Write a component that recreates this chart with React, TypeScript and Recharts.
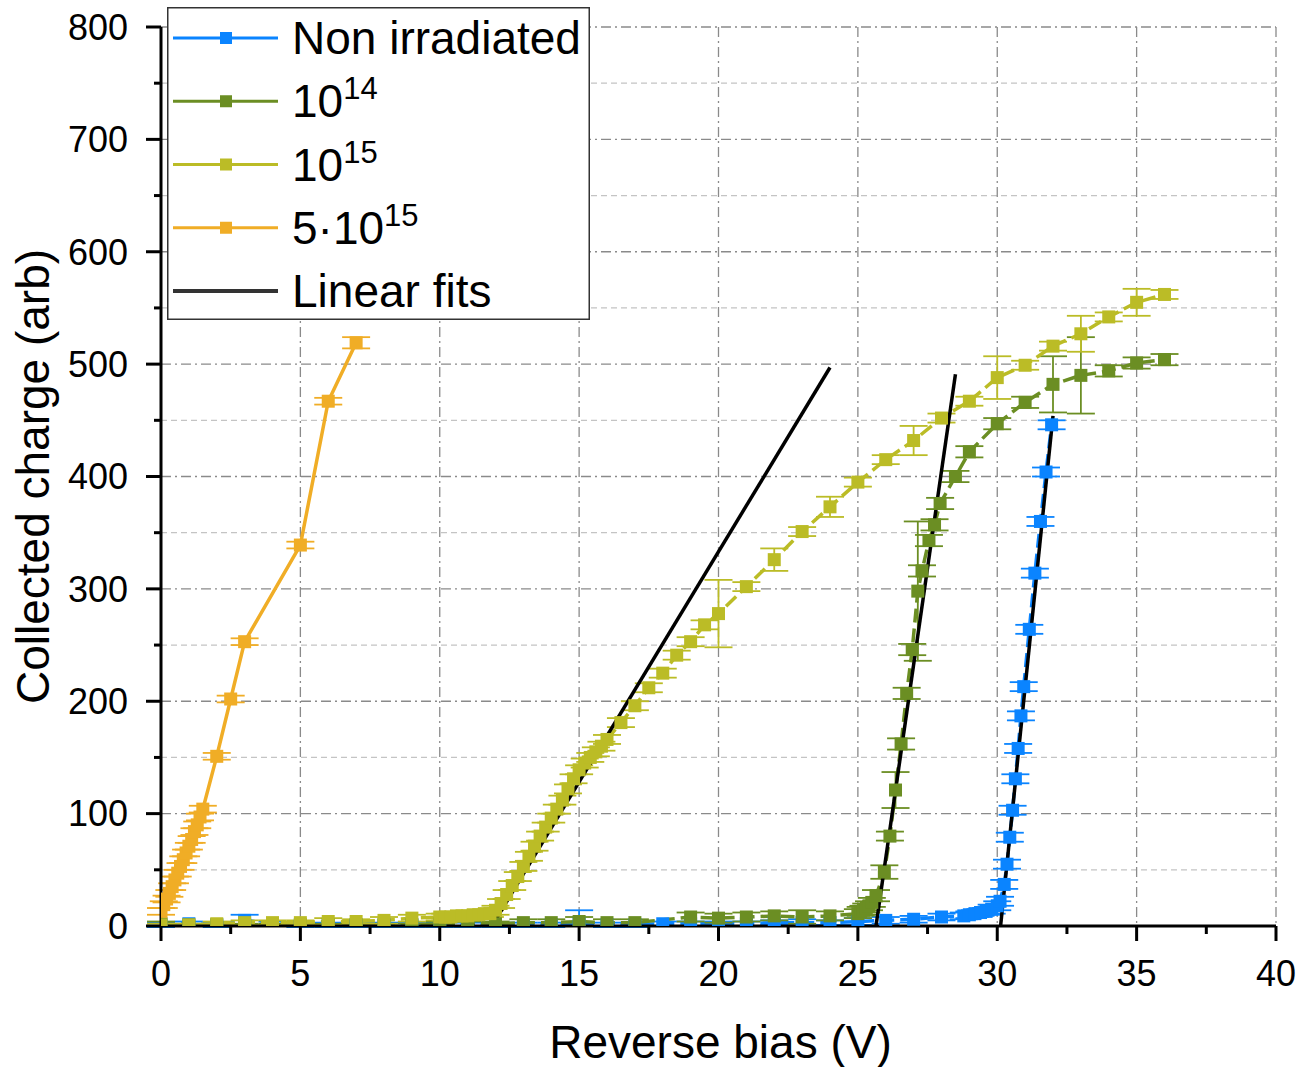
import React from 'react';
import { LineChart, Line, XAxis, YAxis, CartesianGrid, ErrorBar, Legend, Label } from 'recharts';

document.body.style.margin = '0';
document.body.style.overflow = 'hidden';

const FONT = "'Liberation Sans', Arial, Helvetica, sans-serif";

const BLUE = '#0a84ff';
const GREEN = '#6b8e23';
const OLIVE = '#bbbc26';
const ORANGE = '#f0ad26';

// axis ticks
const xMajorTicks = [0, 5, 10, 15, 20, 25, 30, 35, 40];
const xMinorTicks = [2.5, 7.5, 12.5, 17.5, 22.5, 27.5, 32.5, 37.5];
const yMajorTicks = [0, 100, 200, 300, 400, 500, 600, 700, 800];
const yMinorTicks = [50, 150, 250, 350, 450, 550, 650, 750];

// Non irradiated
const nonIrrV = [
  0, 1, 2, 3, 4, 5, 6, 7, 8, 9, 10, 11, 12, 13, 14, 15, 16, 17, 18, 19, 20, 21, 22, 23, 24, 25, 26, 27, 28,
  28.8, 29, 29.2, 29.4, 29.6, 29.8, 30, 30.1,
  30.25, 30.35, 30.45, 30.55, 30.65, 30.75, 30.85, 30.95,
  31.15, 31.35, 31.55, 31.75, 31.95,
];
const nonIrrQ = [
  1, 2, 1, 5, 2, 1, 1, 1, 1, 1, 1, 1, 1, 1, 1, 2, 1, 1, 2, 2, 2, 2, 3, 3, 3, 4, 5, 6, 8,
  9, 10, 11, 12, 13, 15, 18, 22,
  37, 55, 79, 103, 131, 158, 187, 213,
  264, 314, 360, 404, 446,
];
const nonIrrErr: (number | number[])[] = [
  2, 2, 2, 5, 2, 2, 2, 2, 2, 2, 2, 2, 2, 2, 2, [2, 12], 2, 2, 2, 2, 2, 2, 2, 3, 2, 3, 3, 3, 3,
  3, 3, 3, 3, 3, 4, 4, 4,
  4, 4, 4, 4, 4, 4, 4, 4,
  4, 4, 4, 4, 4,
];

// 1e14
const fl14V = [
  0, 1, 2, 3, 4, 5, 6, 7, 8, 9, 10, 11, 12, 13, 14, 15, 16, 17,
  19, 20, 21, 22, 23, 24, 25,
  25.1, 25.2, 25.3, 25.4, 25.5,
  25.65, 25.95, 26.15, 26.35, 26.55, 26.75, 26.95, 27.15, 27.3, 27.55, 27.75, 27.95,
  28.5, 29, 30, 31, 32, 33, 34, 35, 36,
];
const fl14Q = [
  2, 1, 1, 1, 1, 1, 1, 1, 1, 1, 2, 2, 2, 3, 3, 4, 3, 3,
  8, 7, 8, 9, 8, 9, 11,
  13, 14, 16, 18, 21,
  27, 48, 80, 121, 162, 207, 246, 298, 316, 343, 357, 376,
  400, 422, 447, 466, 482, 490, 494, 501, 504,
];
const fl14Err = [
  2, 1, 1, 1, 1, 1, 1, 1, 1, 1, 2, 2, 2, 3, 3, 4, 3, 3,
  4, 4, 4, 4, 6, 4, 4,
  4, 4, 4, 4, 4,
  5, 6, 4, 16, 5, 5, 5, 62, 5, 5, 5, 5,
  5, 5, 5, 5, 25, 34, 5, 5, 5,
];

// 1e15
const fl15V = [
  0, 1, 2, 3, 4, 5, 6, 7, 8, 9, 10,
  10.2, 10.4, 10.6, 10.8, 11, 11.2, 11.4, 11.6, 11.8,
  12, 12.2, 12.4, 12.6, 12.8, 13, 13.2, 13.4, 13.6, 13.8, 14, 14.2, 14.4, 14.6, 14.8, 15, 15.2, 15.4, 15.6, 15.8, 16,
  16.5, 17, 17.5, 18, 18.5, 19, 19.5, 20,
  21, 22, 23, 24, 25, 26, 27, 28, 29, 30, 31, 32, 33, 34, 35, 36,
];
const fl15Q = [
  1, 1, 2, 3, 3, 3, 4, 4, 5, 7, 8,
  8, 8, 9, 9, 9, 10, 10, 11, 11,
  14, 20, 28, 36, 44, 53, 62, 71, 80, 88, 96, 104, 112, 122, 131, 139, 145, 150, 155, 160, 166,
  181, 196, 212, 225, 241, 253, 268, 278,
  302, 326, 351, 373, 395, 415, 432, 452, 467, 488, 499, 516, 527, 542, 555, 562,
];
const fl15Err = [
  1, 1, 2, 2, 2, 2, 3, 2, 3, 3, 3,
  3, 3, 3, 3, 3, 3, 3, 3, 3,
  4, 4, 4, 4, 4, 4, 4, 4, 4, 4, 4, 4, 4, 4, 4, 4, 4, 4, 4, 4, 4,
  4, 4, 4, 4, 4, 4, 4, 30,
  4, 10, 4, 9, 4, 4, 13, 4, 4, 19, 4, 4, 16, 4, 12, 4,
];

// 5e15
const fl5e15V = [0, 0.1, 0.2, 0.3, 0.4, 0.5, 0.6, 0.7, 0.8, 0.9, 1, 1.1, 1.2, 1.3, 1.4, 1.5, 2, 2.5, 3, 5, 6, 7];
const fl5e15Q = [13, 19, 24, 29, 35, 41, 47, 53, 59, 65, 71, 77, 84, 90, 97, 104, 151, 202, 253, 339, 467, 519];
const fl5e15Err = [3, 3, 3, 3, 3, 3, 3, 3, 3, 3, 3, 3, 3, 3, 3, 3, 3, 3, 3, 3, 3, 5];

// linear fits (end points)
const fit15V = [11.87, 24];
const fit15Q = [0, 497];
const fit14V = [25.65, 28.5];
const fit14Q = [0, 491];
const fitNonIrrV = [30.12, 32];
const fitNonIrrQ = [0, 454];

const toPoints = (v: number[], q: number[], e?: (number | number[])[]) =>
  v.map((x, i) => ({ x, y: q[i], e: e ? e[i] : 0 }));

const nonIrrData = toPoints(nonIrrV, nonIrrQ, nonIrrErr);
const fl14Data = toPoints(fl14V, fl14Q, fl14Err);
const fl15Data = toPoints(fl15V, fl15Q, fl15Err);
const fl5e15Data = toPoints(fl5e15V, fl5e15Q, fl5e15Err);
const fit15Data = toPoints(fit15V, fit15Q);
const fit14Data = toPoints(fit14V, fit14Q);
const fitNonIrrData = toPoints(fitNonIrrV, fitNonIrrQ);

const xTicks = [...xMajorTicks, ...xMinorTicks].sort((a, b) => a - b);
const yTicks = [...yMajorTicks, ...yMinorTicks].sort((a, b) => a - b);

const TICK_SIZE = 15;
const X_TICK_MARGIN = 19;
const Y_TICK_MARGIN = 18;
const MARK = 13;

const squareDot = (color: string) => (props: any) => {
  const { cx, cy, index } = props;
  if (cx == null || cy == null) return <g key={`d${index}`} />;
  return <rect key={`d${index}`} x={cx - MARK / 2} y={cy - MARK / 2} width={MARK} height={MARK} fill={color} />;
};

const XTick = (props: any) => {
  const { x, y, payload } = props;
  const v = payload.value;
  const major = xMajorTicks.includes(v);
  const ay = y - TICK_SIZE - X_TICK_MARGIN;
  return (
    <g>
      <line x1={x} x2={x} y1={ay} y2={ay + (major ? 15 : 8)} stroke="#000" strokeWidth={3} />
      {major && (
        <text x={x} y={y} dy="0.71em" textAnchor="middle" fontSize={36} fill="#000" fontFamily={FONT}>
          {v}
        </text>
      )}
    </g>
  );
};

const YTick = (props: any) => {
  const { x, y, payload } = props;
  const v = payload.value;
  const major = yMajorTicks.includes(v);
  const ax = x + TICK_SIZE + Y_TICK_MARGIN;
  return (
    <g>
      <line x1={ax} x2={ax - (major ? 15 : 7)} y1={y} y2={y} stroke="#000" strokeWidth={3} />
      {major && (
        <text x={x} y={y} dy="0.355em" textAnchor="end" fontSize={36} fill="#000" fontFamily={FONT}>
          {v}
        </text>
      )}
    </g>
  );
};

const XTitle = (props: any) => {
  const vb = props.viewBox || {};
  return (
    <text x={vb.x + vb.width / 2 + 2} y={vb.y + vb.height - 9} textAnchor="middle" fontSize={46} fill="#000" fontFamily={FONT}>
      Reverse bias (V)
    </text>
  );
};

const YTitle = (props: any) => {
  const vb = props.viewBox || {};
  const cx = 33;
  const cy = vb.y + vb.height / 2;
  return (
    <text
      x={cx}
      y={cy}
      transform={`rotate(-90, ${cx}, ${cy})`}
      textAnchor="middle"
      dominantBaseline="central"
      fontSize={46}
      fill="#000"
      fontFamily={FONT}
    >
      Collected charge (arb)
    </text>
  );
};

const legendRows = [
  { base: 'Non irradiated', sup: '', color: BLUE, marker: true },
  { base: '10', sup: '14', color: GREEN, marker: true },
  { base: '10', sup: '15', color: OLIVE, marker: true },
  { base: '5·10', sup: '15', color: ORANGE, marker: true },
  { base: 'Linear fits', sup: '', color: '#333', marker: false },
];

const renderLegend = () => (
  <svg width={423} height={313} style={{ display: 'block', background: '#fff' }}>
    <rect x={0.75} y={0.75} width={421.5} height={311.5} fill="#fff" stroke="#333" strokeWidth={1.5} />
    {legendRows.map((r, i) => {
      const ly = 31 + i * 63.25;
      return (
        <g key={i}>
          <line x1={6} x2={111} y1={ly} y2={ly} stroke={r.color} strokeWidth={r.marker ? 3 : 4} />
          {r.marker && <rect x={53} y={ly - 6} width={12} height={12} fill={r.color} />}
          <text x={125} y={ly + 16} fontSize={46} fill="#000" fontFamily={FONT}>
            {r.base}
            {r.sup && (
              <tspan dy={-18} fontSize={31}>
                {r.sup}
              </tspan>
            )}
          </text>
        </g>
      );
    })}
  </svg>
);

export default function App() {
  return (
    <div style={{ width: 1298, height: 1067, background: '#fff' }}>
      <LineChart width={1298} height={1067} margin={{ top: 27, right: 22, bottom: 0, left: 0 }} style={{ fontFamily: FONT }}>
        <CartesianGrid
          stroke="#c4c4c4"
          strokeWidth={1.3}
          strokeDasharray="6 4"
          vertical={false}
          horizontalValues={yMinorTicks}
        />
        <CartesianGrid
          stroke="#8a8a8a"
          strokeWidth={1.3}
          strokeDasharray="10 4 2 4"
          horizontalValues={yMajorTicks}
          verticalValues={xMajorTicks}
        />
        <XAxis
          type="number"
          dataKey="x"
          domain={[0, 40]}
          ticks={xTicks}
          interval={0}
          allowDataOverflow
          height={141}
          axisLine={{ stroke: '#000', strokeWidth: 3 }}
          tickLine={false}
          tickSize={TICK_SIZE}
          tickMargin={X_TICK_MARGIN}
          tick={<XTick />}
        >
          <Label content={<XTitle />} />
        </XAxis>
        <YAxis
          type="number"
          dataKey="y"
          domain={[0, 800]}
          ticks={yTicks}
          interval={0}
          allowDataOverflow
          width={161}
          axisLine={{ stroke: '#000', strokeWidth: 3 }}
          tickLine={false}
          tickSize={TICK_SIZE}
          tickMargin={Y_TICK_MARGIN}
          tick={<YTick />}
        >
          <Label content={<YTitle />} />
        </YAxis>
        <Legend
          content={renderLegend}
          layout="vertical"
          align="center"
          verticalAlign="middle"
          wrapperStyle={{ top: 7, left: 167, width: 423, height: 313 }}
        />

        <Line
          data={nonIrrData}
          dataKey="y"
          name="Non irradiated"
          stroke={BLUE}
          strokeWidth={3.5}
          strokeDasharray="14 6"
          dot={squareDot(BLUE)}
          activeDot={false}
          isAnimationActive={false}
        >
          <ErrorBar dataKey="e" direction="y" width={14} stroke={BLUE} strokeWidth={1.8} />
        </Line>
        <Line
          data={fl14Data}
          dataKey="y"
          name="1e14"
          stroke={GREEN}
          strokeWidth={3.5}
          strokeDasharray="14 6"
          dot={squareDot(GREEN)}
          activeDot={false}
          isAnimationActive={false}
        >
          <ErrorBar dataKey="e" direction="y" width={14} stroke={GREEN} strokeWidth={1.8} />
        </Line>
        <Line
          data={fl15Data}
          dataKey="y"
          name="1e15"
          stroke={OLIVE}
          strokeWidth={3.5}
          strokeDasharray="14 6"
          dot={squareDot(OLIVE)}
          activeDot={false}
          isAnimationActive={false}
        >
          <ErrorBar dataKey="e" direction="y" width={14} stroke={OLIVE} strokeWidth={1.8} />
        </Line>
        <Line
          data={fl5e15Data}
          dataKey="y"
          name="5e15"
          stroke={ORANGE}
          strokeWidth={3.5}
          dot={squareDot(ORANGE)}
          activeDot={false}
          isAnimationActive={false}
        >
          <ErrorBar dataKey="e" direction="y" width={14} stroke={ORANGE} strokeWidth={1.8} />
        </Line>

        <Line data={fit15Data} dataKey="y" name="fit15" stroke="#000" strokeWidth={3.5} dot={false} activeDot={false} isAnimationActive={false} />
        <Line data={fit14Data} dataKey="y" name="fit14" stroke="#000" strokeWidth={3.5} dot={false} activeDot={false} isAnimationActive={false} />
        <Line data={fitNonIrrData} dataKey="y" name="fitNonIrr" stroke="#000" strokeWidth={3.5} dot={false} activeDot={false} isAnimationActive={false} />
      </LineChart>
    </div>
  );
}
